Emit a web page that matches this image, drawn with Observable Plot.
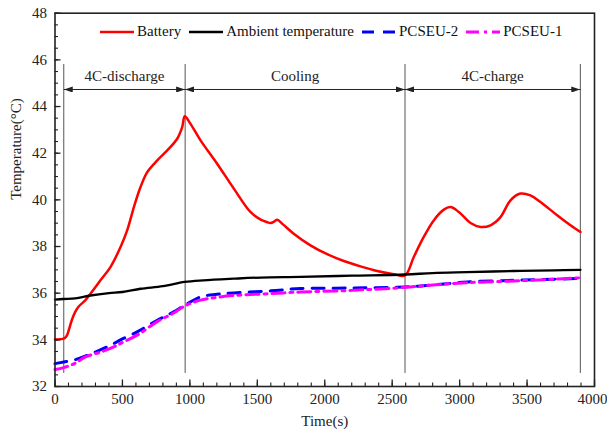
<!DOCTYPE html>
<html><head><meta charset="utf-8">
<script src="https://cdn.jsdelivr.net/npm/d3@7"></script>
<script src="https://cdn.jsdelivr.net/npm/@observablehq/plot@0.6"></script>
<style>
html,body{margin:0;padding:0;background:#fff;}
#chart{position:relative;width:607px;height:433px;font-family:"Liberation Serif","Times New Roman",serif;}
#chart svg, #chart svg text{font-family:"Liberation Serif","Times New Roman",serif !important;}
#legend{position:absolute;left:99px;top:23px;display:flex;align-items:center;font-size:15px;color:#111;white-space:nowrap;}
#legend .item{display:flex;align-items:center;margin-right:7px;}
#legend svg{margin-right:2px;}
</style></head><body><div id="chart"><div id="legend"></div></div>
<script>
// ---- data ----
const seriesNames = ["Battery", "Ambient temperature", "PCSEU-2", "PCSEU-1"];

const batteryTime = [0, 65, 85, 102, 125, 150, 177, 226, 263, 337, 411, 486, 535, 585, 634, 684, 758, 832, 906, 943, 962, 1000, 1079, 1202, 1326, 1449, 1525, 1570, 1598, 1625, 1647, 1690, 1770, 1894, 2018, 2141, 2265, 2389, 2512, 2595, 2660, 2734, 2808, 2883, 2932, 2994, 3081, 3155, 3229, 3303, 3377, 3451, 3525, 3599, 3723, 3822, 3896];
const batteryTemp = [34.02, 34.05, 34.15, 34.41, 34.85, 35.2, 35.44, 35.7, 35.98, 36.55, 37.12, 37.98, 38.69, 39.69, 40.55, 41.19, 41.69, 42.12, 42.62, 43.12, 43.58, 43.3, 42.55, 41.55, 40.48, 39.48, 39.15, 39.05, 39.01, 39.07, 39.15, 38.95, 38.55, 38.05, 37.67, 37.38, 37.15, 36.95, 36.81, 36.76, 37.55, 38.41, 39.12, 39.58, 39.69, 39.48, 39.01, 38.84, 38.91, 39.26, 39.98, 40.27, 40.19, 39.91, 39.34, 38.91, 38.62];

const ambientTime = [0, 60, 150, 263, 400, 500, 634, 800, 961, 1100, 1326, 1525, 1820, 2200, 2595, 2800, 3056, 3400, 3700, 3896];
const ambientTemp = [35.72, 35.75, 35.78, 35.9, 36.0, 36.05, 36.19, 36.3, 36.48, 36.55, 36.62, 36.67, 36.7, 36.75, 36.8, 36.86, 36.9, 36.95, 36.98, 37.0];

const pcseu2Time = [0, 65, 150, 241, 340, 436, 486, 609, 758, 880, 961, 1079, 1200, 1326, 1600, 1820, 2200, 2600, 2800, 3056, 3400, 3700, 3896];
const pcseu2Temp = [32.98, 33.05, 33.15, 33.34, 33.58, 33.84, 34.0, 34.34, 34.84, 35.2, 35.48, 35.84, 35.95, 36.01, 36.1, 36.2, 36.22, 36.27, 36.35, 36.48, 36.55, 36.6, 36.63];

const pcseu1Time = [0, 65, 150, 226, 340, 436, 486, 609, 758, 880, 961, 1079, 1200, 1326, 1600, 1820, 2200, 2600, 2800, 3056, 3400, 3700, 3896];
const pcseu1Temp = [32.73, 32.81, 33.0, 33.27, 33.48, 33.7, 33.85, 34.2, 34.78, 35.15, 35.45, 35.7, 35.82, 35.9, 35.98, 36.05, 36.12, 36.25, 36.35, 36.45, 36.52, 36.6, 36.66];

const phaseNames = ["4C-discharge", "Cooling", "4C-charge"];
const phaseBounds = [65, 965, 2595, 3895];

const xTicks = [0, 500, 1000, 1500, 2000, 2500, 3000, 3500, 4000];
const yTicks = [32, 34, 36, 38, 40, 42, 44, 46, 48];

// ---- styles ----
const FONT = "'Liberation Serif','Times New Roman',serif";
const colors = ["#ff0000", "#000000", "#0000ff", "#ff00ff"];
const dashes = [null, null, "12,9", "13,5,3,5"];
const widths = [2.5, 2.3, 3, 3];

const toRows = (ts, vs) => ts.map((t, i) => ({t, v: vs[i]}));
const series = [
  toRows(batteryTime, batteryTemp),
  toRows(ambientTime, ambientTemp),
  toRows(pcseu2Time, pcseu2Temp),
  toRows(pcseu1Time, pcseu1Temp)
];
const phases = phaseNames.map((name, i) => ({name, start: phaseBounds[i], end: phaseBounds[i + 1], mid: (phaseBounds[i] + phaseBounds[i + 1]) / 2}));

function filledArrow(color, context) {
  const ns = "http://www.w3.org/2000/svg";
  const doc = (context && context.document) || document;
  const m = doc.createElementNS(ns, "marker");
  m.setAttribute("viewBox", "-9 -3 9 6");
  m.setAttribute("markerWidth", 9);
  m.setAttribute("markerHeight", 6);
  m.setAttribute("refX", 0);
  m.setAttribute("refY", 0);
  m.setAttribute("markerUnits", "userSpaceOnUse");
  m.setAttribute("orient", "auto-start-reverse");
  const p = doc.createElementNS(ns, "path");
  p.setAttribute("d", "M-9,-3L0,0L-9,3Z");
  p.setAttribute("fill", color);
  p.setAttribute("stroke", "none");
  m.appendChild(p);
  return m;
}

const arrowY = 44.73, labelY = 45.3, vTop = 45.8, vBottom = 32.56;

const chart = Plot.plot({
  width: 607,
  height: 433,
  marginLeft: 54.5,
  marginRight: 13,
  marginTop: 12.7,
  marginBottom: 47,
  style: `font-family: ${FONT}; font-size: 15px; background: #fff; color: #222;`,
  x: {domain: [0, 4000], label: null},
  y: {domain: [32, 48], label: null},
  marks: [
    // phase annotations
    Plot.ruleX(phaseBounds, {x: d => d, y1: vBottom, y2: vTop, stroke: "#555", strokeWidth: 1}),
    Plot.link(phases, {x1: "start", x2: "end", y1: arrowY, y2: arrowY, stroke: "#222", strokeWidth: 1, markerStart: filledArrow, markerEnd: filledArrow}),
    Plot.text(phases, {x: "mid", y: labelY, text: "name", fill: "#222", fontSize: 15, fontFamily: FONT}),
    // series
    ...series.map((rows, i) => Plot.line(rows, {x: "t", y: "v", stroke: colors[i], strokeWidth: widths[i], strokeDasharray: dashes[i], curve: "catmull-rom"})),
    // axes: tick marks (inward)
    Plot.axisX({ticks: xTicks, tickSize: 6.5, dy: -6.5, text: null, label: null, stroke: "#222", strokeWidth: 1.3}),
    Plot.axisX({ticks: d3.range(0, 4001, 100), tickSize: 3.5, dy: -3.5, text: null, label: null, stroke: "#222", strokeWidth: 1.1}),
    Plot.axisY({ticks: yTicks, tickSize: 6, dx: 6, text: null, label: null, stroke: "#222", strokeWidth: 1.3}),
    Plot.axisY({ticks: d3.range(32, 48.01, 0.5), tickSize: 3.5, dx: 3.5, text: null, label: null, stroke: "#222", strokeWidth: 1.1}),
    // tick labels
    Plot.axisX({ticks: xTicks.slice(0, -1), tickSize: 0, tickPadding: 7, tickFormat: "d", label: null, fill: "#222", fontSize: 15, fontFamily: FONT}),
    Plot.axisX({ticks: xTicks.slice(-1), tickSize: 0, tickPadding: 7, tickFormat: "d", label: null, fill: "#222", fontSize: 15, fontFamily: FONT, dx: -2}),
    Plot.axisY({ticks: yTicks, tickSize: 0, tickPadding: 8, tickFormat: "d", label: null, fill: "#222", fontSize: 15, fontFamily: FONT}),
    // axis titles
    Plot.text(["Time(s)"], {frameAnchor: "bottom", dy: 39, fill: "#222", fontSize: 15, fontFamily: FONT}),
    Plot.text(["Temperature(\u00b0C)"], {frameAnchor: "left", dx: -39, rotate: -90, fill: "#222", fontSize: 15, fontFamily: FONT}),
    Plot.frame({stroke: "#222", strokeWidth: 1.6})
  ]
});
document.getElementById("chart").prepend(chart);

// legend
const legend = d3.select("#legend");
seriesNames.forEach((name, i) => {
  const item = legend.append("div").attr("class", "item");
  const sw = item.append("svg").attr("width", 36).attr("height", 10);
  sw.append("line").attr("x1", 1).attr("x2", 35).attr("y1", 5).attr("y2", 5)
    .attr("stroke", colors[i]).attr("stroke-width", widths[i])
    .attr("stroke-dasharray", dashes[i]);
  item.append("span").text(name);
});
</script>
</body></html>
